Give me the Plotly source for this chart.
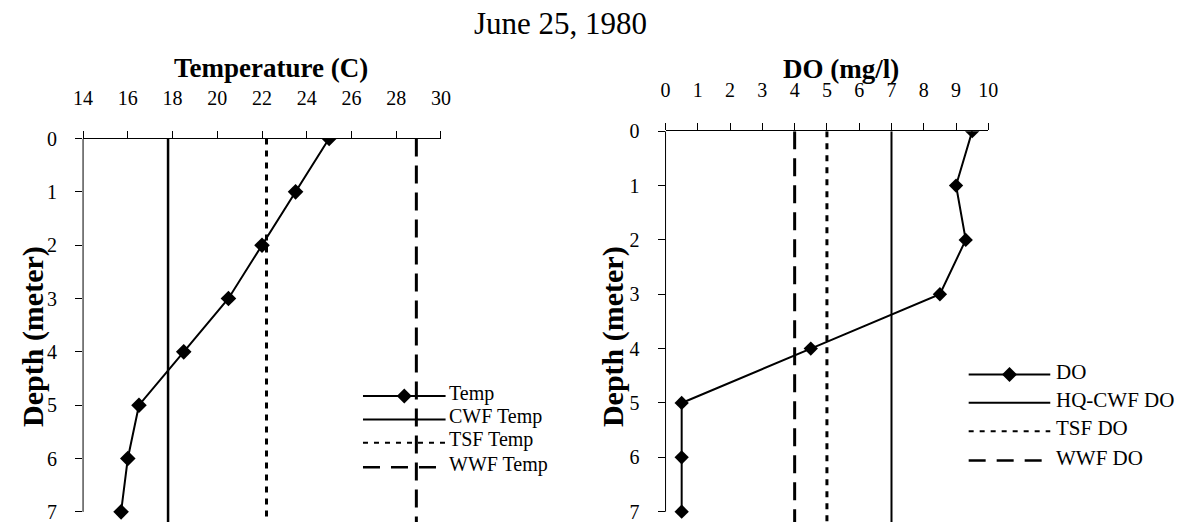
import plotly.graph_objects as go

# ---- data -------------------------------------------------------------
depth = [0, 1, 2, 3, 4, 5, 6, 7]
temp_c = [25.0, 23.5, 22.0, 20.5, 18.5, 16.5, 16.0, 15.7]
do_mgl = [9.5, 9.0, 9.3, 8.5, 4.5, 0.5, 0.5, 0.5]

# criteria lines run the full depth of the profile
criteria_depth = [0, 8]
cwf_temp, tsf_temp, wwf_temp = 17.8, 22.2, 28.9
hqcwf_do, tsf_do, wwf_do = 7.0, 5.0, 4.0

temp_ticks = list(range(14, 31, 2))
do_ticks = list(range(0, 11, 1))

title_text = "June 25, 1980"

# ---- page geometry ------------------------------------------------------
W, H = 1194, 523
FONT = "Liberation Serif"


def px(x):
    return x / W


def py(y):
    return 1 - y / H


SOLID = dict(color="black", width=2.5)
DOT = dict(color="black", width=3, dash="6px,6px")
DASH = dict(color="black", width=3, dash="18px,9px")

fig = go.Figure()

# left panel: temperature
fig.add_trace(go.Scatter(x=temp_c, y=depth, mode="lines+markers", name="Temp",
                         line=dict(color="black", width=2),
                         marker=dict(symbol="diamond", size=12, color="black"),
                         xaxis="x", yaxis="y"))
fig.add_trace(go.Scatter(x=[cwf_temp] * 2, y=criteria_depth, mode="lines",
                         name="CWF Temp", line=SOLID, xaxis="x", yaxis="y"))
fig.add_trace(go.Scatter(x=[tsf_temp] * 2, y=criteria_depth, mode="lines",
                         name="TSF Temp", line=DOT, xaxis="x", yaxis="y"))
fig.add_trace(go.Scatter(x=[wwf_temp] * 2, y=criteria_depth, mode="lines",
                         name="WWF Temp", line=DASH, xaxis="x", yaxis="y"))

# right panel: dissolved oxygen
fig.add_trace(go.Scatter(x=do_mgl, y=depth, mode="lines+markers", name="DO",
                         line=dict(color="black", width=2),
                         marker=dict(symbol="diamond", size=11, color="black"),
                         xaxis="x2", yaxis="y2"))
fig.add_trace(go.Scatter(x=[hqcwf_do] * 2, y=criteria_depth, mode="lines",
                         name="HQ-CWF DO", line=dict(color="black", width=2),
                         xaxis="x2", yaxis="y2"))
fig.add_trace(go.Scatter(x=[tsf_do] * 2, y=criteria_depth, mode="lines",
                         name="TSF DO", line=DOT, xaxis="x2", yaxis="y2"))
fig.add_trace(go.Scatter(x=[wwf_do] * 2, y=criteria_depth, mode="lines",
                         name="WWF DO", line=DASH, xaxis="x2", yaxis="y2"))

tickfont = dict(family=FONT, size=20, color="black")
xcommon = dict(side="top", ticks="outside", ticklen=7, tickcolor="black", tickwidth=1,
               showline=True, linecolor="black", linewidth=1, showgrid=False,
               zeroline=False, tickfont=tickfont, ticklabelstandoff=18,
               ticklabeloverflow="allow")
ycommon = dict(autorange=False, range=[7.19, 0], tickvals=depth, ticks="outside",
               ticklen=7, tickcolor="black", tickwidth=1, showline=False,
               showgrid=False, zeroline=False, tickfont=tickfont, ticklabelstandoff=14,
               ticklabeloverflow="allow")

fig.update_layout(
    width=W, height=H,
    margin=dict(l=0, r=0, t=0, b=0),
    paper_bgcolor="white", plot_bgcolor="white",
    showlegend=False,
    font=dict(family=FONT, color="black"),
    xaxis=dict(domain=[px(74.3), px(438.3)], range=[14, 30], tickvals=temp_ticks,
               anchor="y", **xcommon),
    yaxis=dict(domain=[0, py(130.5)], anchor="x", **ycommon),
    xaxis2=dict(domain=[px(666.7), px(995)], range=[0, 10], tickvals=do_ticks,
                anchor="y2", **xcommon),
    yaxis2=dict(domain=[0, py(123)], anchor="x2", **ycommon),
)

# depth axis lines stop at the deepest sample
for xr, yr in (("x domain", "y"), ("x2 domain", "y2")):
    fig.add_shape(type="line", xref=xr, yref=yr, x0=0, x1=0,
                  y0=depth[0], y1=depth[-1], line=dict(color="black", width=1))

# titles
annos = [
    dict(text=title_text, x=px(560), y=py(13), font=dict(size=31)),
    dict(text="<b>Temperature (C)</b>", x=px(265.5), y=py(58), font=dict(size=27)),
    dict(text="<b>DO (mg/l)</b>", x=px(845), y=py(59), font=dict(size=27)),
    dict(text="<b>Depth (meter)</b>", x=px(24), y=py(333), font=dict(size=30), textangle=-90),
    dict(text="<b>Depth (meter)</b>", x=px(614), y=py(333), font=dict(size=30), textangle=-90),
]
for a in annos:
    fig.add_annotation(xref="paper", yref="paper", showarrow=False,
                       xanchor="center", yanchor="middle", **a)


# hand-built legends with long line samples
def legend(entries, x0, x1, xt, ys, size):
    for (label, style, marker), y in zip(entries, ys):
        fig.add_shape(type="line", xref="paper", yref="paper",
                      x0=px(x0), x1=px(x1), y0=py(y), y1=py(y), line=style)
        if marker:
            fig.add_shape(type="path", xref="paper", yref="paper",
                          xsizemode="pixel", ysizemode="pixel",
                          xanchor=px((x0 + x1) / 2), yanchor=py(y),
                          path="M -7.5 0 L 0 7.5 L 7.5 0 L 0 -7.5 Z",
                          fillcolor="black", line=dict(color="black", width=0))
        fig.add_annotation(xref="paper", yref="paper", x=px(xt), y=py(y - 3),
                           text=label, showarrow=False, xanchor="left",
                           yanchor="middle", font=dict(size=size))


LINE = dict(color="black", width=2)
LDOT = dict(color="black", width=2, dash="5px,6px")
LDASH = dict(color="black", width=2.5, dash="17px,11px")

legend([("Temp", LINE, True), ("CWF Temp", LINE, False),
        ("TSF Temp", LDOT, False), ("WWF Temp", LDASH, False)],
       359, 443, 444, [394, 418, 442, 467], 20)
legend([("DO", LINE, True), ("HQ-CWF DO", LINE, False),
        ("TSF DO", LDOT, False), ("WWF DO", LDASH, False)],
       975, 1058, 1062, [372, 401, 430, 460], 21)

fig.write_html("out.html")
